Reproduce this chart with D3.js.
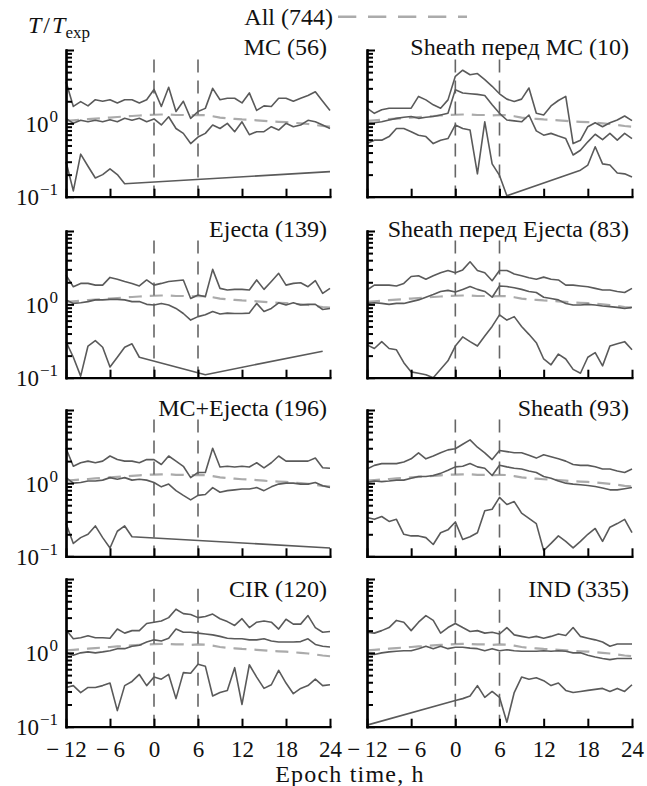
<!DOCTYPE html>
<html>
<head>
<meta charset="utf-8">
<script src="https://cdn.jsdelivr.net/npm/d3@7"></script>
<style>
  body { margin:0; background:#fff; }
  text { font-family:"Liberation Serif","Times New Roman",serif; fill:#111; }
</style>
</head>
<body>
<script>

/////////////////////////////////////////////////////////////////////
// DATA  (T/Texp vs epoch time, hourly from -12 to 24 h)
// null = no value (line is drawn straight across the gap)
/////////////////////////////////////////////////////////////////////
var hours = [-12,-11,-10,-9,-8,-7,-6,-5,-4,-3,-2,-1,0,1,2,3,4,5,6,7,8,9,10,11,12,
             13,14,15,16,17,18,19,20,21,22,23,24];
var xTicks = [-12,-6,0,6,12,18,24];
var yMajor = [0.1,1,10];
var yMinor = [0.2,0.3,0.4,0.5,0.6,0.7,0.8,0.9,2,3,4,5,6,7,8,9];
var yLabels = [{v:1, exp:"0"}, {v:0.1, exp:"\u22121"}];
var eventMarks = [0,6];

var titles = ["MC (56)", "Sheath перед MC (10)", "Ejecta (139)", "Sheath перед Ejecta (83)",
              "MC+Ejecta (196)", "Sheath (93)", "CIR (120)", "IND (335)"];
var legendLabel = "All (744)";

var allMean = [1.08,1.1,1.12,1.14,1.16,1.18,1.2,1.22,1.24,1.26,1.28,1.3,1.31,1.32,1.32,1.3,1.3,1.28,1.3,1.29,
               1.25,1.2,1.17,1.15,1.13,1.12,1.1,1.08,1.06,1.05,1.04,1.02,1.0,0.98,0.95,0.92,0.9];

var mcHi  = [3.7,1.7,1.98,1.73,2.1,2.0,2.1,1.9,2.1,2.1,1.9,2.1,2.9,1.7,3.1,1.45,2.0,1.17,1.45,1.6,
             3.0,2.1,2.2,2.2,1.9,2.6,1.5,1.73,1.7,2.2,2.2,2.0,2.2,2.4,2.7,2.0,1.5];
var mcMid = [1.17,1.0,1.1,1.05,1.1,1.05,1.12,1.05,1.17,1.1,1.17,1.05,1.15,0.95,1.23,0.85,0.73,0.53,0.65,0.73,
             0.95,0.85,1.0,0.77,1.05,0.7,0.77,0.77,0.9,0.81,1.0,0.9,0.95,1.1,1.05,0.95,0.85];
var mcLo  = [0.3,0.12,0.38,0.26,0.18,0.2,0.24,0.2,0.15,null,null,null,null,null,null,null,null,null,null,null,
             null,null,null,null,null,null,null,null,null,null,null,null,null,null,null,null,0.22];

var smcHi  = [1.61,1.37,1.53,1.61,1.61,1.61,1.61,2.33,2.09,1.79,1.61,2.09,4.38,5.3,4.6,4.77,3.95,3.2,2.53,2.14,
              1.99,2.14,3.03,1.37,1.3,1.73,2.05,2.33,0.53,0.59,0.9,1.02,0.9,1.02,1.11,1.26,1.09];
var smcMid = [1.0,1.02,1.05,1.11,1.17,1.21,1.24,1.17,1.21,1.24,1.3,1.37,2.87,2.59,2.53,2.48,2.4,1.79,1.37,1.11,
              1.08,1.05,1.3,0.79,0.69,0.73,0.67,0.62,0.37,0.43,0.56,0.71,0.6,0.73,0.59,0.73,0.62];
var smcLo  = [0.53,0.59,0.59,0.66,0.85,0.85,0.77,0.69,0.66,0.53,0.59,0.62,0.95,0.85,0.81,0.205,1.05,0.28,0.195,0.103,
              null,null,null,null,null,null,null,null,null,0.23,0.27,0.48,0.28,0.27,0.21,0.205,0.185];

var ejHi  = [2.5,1.74,1.93,1.93,1.83,1.83,2.33,2.2,2.05,1.93,1.78,2.15,1.83,1.93,2.05,2.1,2.15,1.2,1.34,1.27,
             3.0,1.65,1.57,1.6,1.6,1.57,2.15,1.6,2.05,2.65,1.83,1.93,1.97,1.74,2.1,1.41,1.65];
var ejMid = [1.15,1.03,1.05,1.09,1.15,1.15,1.17,1.17,1.15,1.09,1.09,1.0,0.98,1.03,0.98,0.88,0.75,0.61,0.68,0.72,
             0.8,0.74,0.76,0.75,0.75,0.76,1.03,0.8,0.88,1.05,0.98,1.05,0.98,1.0,1.0,0.85,0.88];
var ejLo  = [0.31,0.19,0.105,0.27,0.32,0.26,0.14,0.19,0.26,0.29,0.19,null,null,null,null,null,null,null,null,0.11,
             null,null,null,null,null,null,null,null,null,null,null,null,null,null,null,0.23,null];

var sejHi  = [1.57,1.83,1.83,1.83,1.78,1.93,2.4,2.45,2.2,2.45,2.7,2.9,2.7,2.95,3.8,2.9,2.7,2.1,2.9,2.9,
              2.6,2.45,2.3,2.2,2.35,2.2,2.15,1.83,1.83,1.78,1.74,1.65,1.57,1.57,1.5,1.45,1.65];
var sejMid = [1.03,1.05,1.03,1.0,1.03,1.03,1.09,1.15,1.25,1.36,1.5,1.55,1.47,1.6,1.75,1.6,1.5,1.25,1.78,1.75,
              1.68,1.6,1.5,1.45,1.25,1.2,1.15,1.03,0.98,0.98,1.0,0.98,0.95,0.93,0.91,0.88,0.91];
var sejLo  = [0.28,0.25,0.31,0.25,0.24,0.16,0.12,0.115,0.11,0.1,0.13,0.17,0.27,0.36,0.31,0.27,0.37,0.5,0.72,0.61,
              0.68,0.5,0.39,0.3,0.18,0.15,0.21,0.18,0.13,0.115,0.19,0.22,0.145,0.27,0.29,0.31,0.24];

var meHi  = [3.0,1.7,1.9,2.0,1.9,2.0,2.35,2.1,2.0,2.0,1.9,2.1,2.1,1.8,2.35,2.0,1.7,1.19,1.4,1.4,
             3.0,1.66,1.7,1.66,1.7,1.66,1.9,1.62,1.9,2.35,2.0,2.0,2.0,2.0,2.2,1.62,1.6];
var meMid = [1.19,1.0,1.02,1.07,1.07,1.1,1.19,1.13,1.19,1.1,1.13,1.1,1.02,0.89,0.97,0.79,0.68,0.59,0.68,0.7,
             0.87,0.75,0.79,0.81,0.83,0.83,0.87,0.79,0.89,0.97,1.0,1.0,0.97,0.97,1.02,0.92,0.87];
var meLo  = [0.28,0.15,0.18,0.2,0.26,0.18,0.13,0.22,0.26,0.185,null,null,null,null,null,null,null,null,null,null,
             null,null,null,null,null,null,null,null,null,null,null,null,null,null,null,null,0.13];

var shHi  = [1.56,1.75,1.85,1.85,1.85,1.95,2.15,2.6,2.15,2.35,2.6,2.85,2.95,3.4,3.9,3.1,2.6,2.1,2.8,2.7,
             2.6,2.6,2.4,2.2,2.45,2.3,2.15,2.0,1.8,1.75,1.75,1.68,1.56,1.56,1.47,1.4,1.56];
var shMid = [1.03,1.07,1.05,1.07,1.1,1.1,1.17,1.23,1.23,1.27,1.36,1.5,1.67,1.7,1.86,1.67,1.6,1.27,1.76,1.67,
             1.6,1.56,1.47,1.4,1.23,1.17,1.07,1.0,0.97,0.95,0.93,0.9,0.86,0.81,0.81,0.84,0.87];
var shLo  = [0.34,0.32,0.35,0.3,0.32,0.2,0.19,0.19,0.18,0.145,0.21,0.23,0.295,0.17,0.185,0.21,0.42,0.44,0.64,0.51,
             0.56,0.39,0.33,0.28,0.12,0.15,0.19,0.16,0.13,0.16,0.2,0.24,0.16,0.25,0.28,0.32,0.21];

var cirHi  = [2.05,1.55,1.6,1.7,1.6,1.6,1.58,2.1,1.85,2.0,2.0,2.5,2.6,2.7,3.0,3.9,3.4,3.3,3.0,3.1,
              3.35,2.9,2.65,2.35,2.9,2.2,2.6,2.7,2.6,2.1,2.85,2.45,2.45,3.2,2.2,1.9,1.95];
var cirMid = [1.0,0.93,1.0,1.03,1.0,1.03,1.07,1.14,1.14,1.23,1.27,1.4,1.5,1.45,1.58,2.1,1.9,1.9,1.85,1.8,
              1.75,1.67,1.58,1.55,1.55,1.5,1.5,1.55,1.45,1.4,1.4,1.4,1.42,1.55,1.3,1.23,1.2];
var cirLo  = [0.34,0.36,0.29,0.34,0.34,0.36,0.39,0.165,0.36,0.41,0.51,0.36,0.47,0.44,0.51,0.24,0.54,0.53,0.7,0.66,
              0.26,0.29,0.31,0.63,0.2,0.69,0.47,0.33,0.37,0.58,0.39,0.28,0.33,0.36,0.44,0.36,0.37];

var indHi  = [1.9,1.85,2.0,2.2,2.75,2.6,2.0,2.6,3.2,2.75,1.85,2.2,2.5,2.2,1.95,2.0,1.85,1.9,1.8,2.2,
              1.75,1.67,1.6,1.67,1.58,1.67,1.8,1.72,2.2,1.67,1.58,1.5,1.4,1.23,1.32,1.32,1.32];
var indMid = [0.97,0.95,1.0,1.03,1.05,1.07,1.07,1.14,1.23,1.14,1.23,1.14,1.19,1.19,1.16,1.14,1.07,1.14,1.07,1.1,
              1.07,1.05,1.05,1.05,1.07,1.05,1.07,1.05,1.0,1.0,0.93,0.88,0.84,0.81,0.84,0.84,0.84];
var indLo  = [0.105,null,null,null,null,null,null,null,null,null,null,null,0.227,0.24,0.26,0.36,0.25,0.3,0.25,0.115,
              0.29,0.47,0.44,0.46,0.42,0.36,0.39,0.31,0.29,0.3,0.31,0.32,0.33,0.3,0.33,0.3,0.37];

var panelSeries = [[mcHi,mcMid,mcLo],[smcHi,smcMid,smcLo],[ejHi,ejMid,ejLo],[sejHi,sejMid,sejLo],
                   [meHi,meMid,meLo],[shHi,shMid,shLo],[cirHi,cirMid,cirLo],[indHi,indMid,indLo]];

/////////////////////////////////////////////////////////////////////
// LAYOUT
/////////////////////////////////////////////////////////////////////
var W=647, H=786;
var colX=[[66,330],[367,632]];                                   // x range of each column
var rowY=[[50,196.7],[231,377.7],[410,556.3],[579,726.7]];        // top (10) / bottom (0.1)
var titleDy=[5,6,6,18];

var lineColor="#5a5a5a", allColor="#ababab", markColor="#666";

var svg=d3.select("body").append("svg").attr("width",W).attr("height",H);

function pairs(vals){
   // keep only existing values so the line goes straight over the gaps
   return hours.map(function(h,i){ return [h, vals[i]]; })
               .filter(function(d){ return d[1]!=null; });
}

function fmtX(v){ return v<0 ? "\u2212\u2009"+Math.abs(v) : String(v); }

panelSeries.forEach(function(series,i){

   var col=i%2, row=Math.floor(i/2);
   var x=d3.scaleLinear().domain([-12,24]).range(colX[col]);
   var y=d3.scaleLog().domain([0.1,10]).range([rowY[row][1],rowY[row][0]]);
   var line=d3.line().x(function(d){return x(d[0]);}).y(function(d){return y(d[1]);});
   var g=svg.append("g");

   // "All" reference curve
   g.append("path").datum(pairs(allMean)).attr("d",line)
    .attr("fill","none").attr("stroke",allColor).attr("stroke-width",2.2)
    .attr("stroke-dasharray","13,8");

   // epoch markers at 0 and 6 h
   g.selectAll(".mark").data(eventMarks).enter().append("line")
    .attr("x1",function(d){return x(d);}).attr("x2",function(d){return x(d);})
    .attr("y1",y(7.4)).attr("y2",y(0.1))
    .attr("stroke",markColor).attr("stroke-width",1.6).attr("stroke-dasharray","13,8");

   // the three curves
   series.forEach(function(s){
      g.append("path").datum(pairs(s)).attr("d",line)
       .attr("fill","none").attr("stroke",lineColor).attr("stroke-width",1.6)
       .attr("stroke-linejoin","round");
   });

   // x axis (ticks inward)
   var xa=g.append("g").attr("transform","translate(0,"+y(0.1)+")")
           .call(d3.axisBottom(x).tickValues(xTicks).tickSizeInner(-8).tickSizeOuter(0)
                  .tickFormat(row==3 ? fmtX : function(){return "";}));
   xa.selectAll("text").attr("y",30).attr("dy",null).style("font-size","23px")
     .style("font-family","'Liberation Serif',serif").attr("fill","#111");

   // y axis: minor + major ticks
   var ya=g.append("g").attr("transform","translate("+x(-12)+",0)");
   ya.call(d3.axisLeft(y).tickValues(yMinor).tickSizeInner(-6).tickSizeOuter(0).tickFormat(""));
   ya.append("g").call(d3.axisLeft(y).tickValues(yMajor).tickSizeInner(-8).tickSizeOuter(0).tickFormat(""));

   g.selectAll(".domain").attr("stroke","#000").attr("stroke-width",2.2).attr("stroke-linecap","square");
   g.selectAll(".tick line").attr("stroke","#000").attr("stroke-width",2);

   // y tick labels on left column only
   if (col==0) {
      yLabels.forEach(function(l){
         var t=g.append("text").attr("x",x(-12)-8).attr("y",y(l.v)+8.5)
                .attr("text-anchor","end").style("font-size","23px");
         t.append("tspan").text("10");
         t.append("tspan").attr("dy",-10).attr("dx",1).style("font-size","17px").text(l.exp);
      });
   }

   // panel title
   g.append("text").attr("x",colX[col][1]-3).attr("y",rowY[row][0]+titleDy[row])
    .attr("text-anchor","end").style("font-size","24px").text(titles[i]);
});

// y axis label T/Texp
var yl=svg.append("text").attr("x",28).attr("y",33).style("font-size","24px");
yl.append("tspan").style("font-style","italic").text("T");
yl.append("tspan").attr("dx",2).text("/");
yl.append("tspan").attr("dx",2).style("font-style","italic").text("T");
yl.append("tspan").attr("dy",5).style("font-size","17px").text("exp");

// legend
svg.append("text").attr("x",333).attr("y",25).attr("text-anchor","end")
   .style("font-size","24px").text(legendLabel);
svg.append("line").attr("x1",338).attr("x2",467).attr("y1",16.7).attr("y2",16.7)
   .attr("stroke",allColor).attr("stroke-width",2.5).attr("stroke-dasharray","18.3,11.7");

// x axis label
svg.append("text").attr("x",350).attr("y",782).attr("text-anchor","middle")
   .style("font-size","24px").style("letter-spacing","1.2px").text("Epoch time, h");

</script>
</body>
</html>
